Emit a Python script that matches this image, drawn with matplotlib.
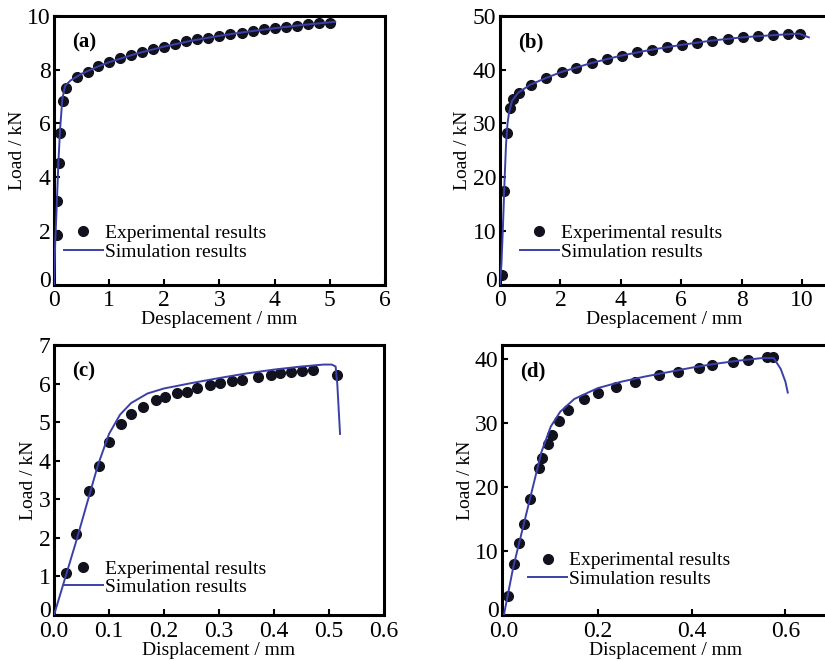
import matplotlib
matplotlib.use("Agg")
import matplotlib.pyplot as plt
import matplotlib.transforms as mtransforms
import numpy as np

# ---- data ----
# (a)
exp_a_x = [0.05, 0.06, 0.09, 0.11, 0.16, 0.21, 0.41, 0.61, 0.80, 0.99, 1.2, 1.4, 1.6, 1.8, 2.0,
           2.2, 2.4, 2.6, 2.8, 3.0, 3.2, 3.4, 3.6, 3.8, 4.0, 4.2, 4.4, 4.6, 4.8, 5.0]
exp_a_y = [1.86, 3.1, 4.52, 5.66, 6.85, 7.31, 7.72, 7.93, 8.12, 8.28, 8.43, 8.55, 8.64, 8.76, 8.86,
           8.96, 9.05, 9.13, 9.19, 9.26, 9.32, 9.38, 9.44, 9.50, 9.54, 9.60, 9.64, 9.69, 9.73, 9.73]
sim_a_x = [0.0, 0.02, 0.05, 0.08, 0.11, 0.15, 0.2, 0.3, 0.5, 0.8, 1.0, 1.5, 2.0, 2.5, 3.0, 3.5,
           4.0, 4.5, 5.0, 5.1]
sim_a_y = [0.0, 1.5, 3.0, 4.6, 5.8, 6.9, 7.4, 7.6, 7.85, 8.12, 8.28, 8.6, 8.86, 9.08, 9.26, 9.41,
           9.54, 9.66, 9.76, 9.78]

# (b)
exp_b_x = [0.08, 0.14, 0.23, 0.33, 0.44, 0.63, 1.02, 1.53, 2.04, 2.53, 3.03, 3.53, 4.03, 4.53,
           5.02, 5.52, 6.02, 6.53, 7.03, 7.53, 8.03, 8.53, 9.03, 9.53, 9.92]
exp_b_y = [1.86, 17.5, 28.2, 32.8, 34.6, 35.7, 37.2, 38.4, 39.5, 40.4, 41.2, 41.9, 42.6, 43.2,
           43.7, 44.2, 44.6, 45.0, 45.4, 45.7, 46.0, 46.3, 46.4, 46.6, 46.7]
sim_b_x = [0.0, 0.05, 0.1, 0.15, 0.2, 0.25, 0.3, 0.4, 0.6, 1.0, 1.5, 2.0, 3.0, 4.0, 5.0, 6.0,
           7.0, 8.0, 9.0, 9.9, 10.22]
sim_b_y = [0.0, 4.0, 11.0, 19.0, 26.0, 30.0, 32.0, 34.2, 35.7, 37.2, 38.4, 39.5, 41.2, 42.6,
           43.7, 44.6, 45.4, 46.0, 46.4, 46.7, 46.0]

# (c)
exp_c_x = [0.021, 0.04, 0.064, 0.081, 0.1, 0.121, 0.14, 0.162, 0.185, 0.202, 0.224, 0.241, 0.26,
           0.283, 0.301, 0.324, 0.342, 0.37, 0.395, 0.411, 0.43, 0.45, 0.47, 0.514]
exp_c_y = [1.10, 2.10, 3.23, 3.86, 4.48, 4.96, 5.22, 5.41, 5.59, 5.65, 5.76, 5.80, 5.88,
           5.96, 6.01, 6.07, 6.11, 6.18, 6.24, 6.28, 6.31, 6.34, 6.37, 6.22]
sim_c_x = [0.0, 0.02, 0.04, 0.06, 0.08, 0.1, 0.12, 0.14, 0.17, 0.2, 0.25, 0.3, 0.35, 0.4, 0.45,
           0.49, 0.505, 0.512, 0.515, 0.52]
sim_c_y = [0.0, 0.95, 1.9, 2.9, 3.9, 4.7, 5.2, 5.5, 5.75, 5.88, 6.02, 6.15, 6.27, 6.37, 6.45,
           6.5, 6.5, 6.45, 6.0, 4.7]

# (d)
exp_d_x = [0.008, 0.022, 0.033, 0.042, 0.056, 0.075, 0.082, 0.093, 0.102, 0.117, 0.137, 0.17,
           0.2, 0.239, 0.279, 0.33, 0.372, 0.416, 0.443, 0.488, 0.52, 0.561, 0.573]
exp_d_y = [2.98, 7.96, 11.2, 14.2, 18.1, 23.0, 24.5, 26.8, 28.1, 30.4, 32.0, 33.8,
           34.8, 35.7, 36.5, 37.5, 38.1, 38.7, 39.1, 39.6, 39.9, 40.3, 40.3]
sim_d_x = [0.0, 0.02, 0.04, 0.06, 0.08, 0.1, 0.12, 0.15, 0.2, 0.25, 0.3, 0.35, 0.4, 0.45, 0.5,
           0.55, 0.575, 0.59, 0.6, 0.605]
sim_d_y = [0.0, 7.5, 13.5, 19.5, 25.5, 29.5, 31.8, 33.8, 35.5, 36.5, 37.3, 38.0, 38.7, 39.3,
           39.8, 40.2, 40.2, 38.5, 36.5, 34.8]

# ---- styling ----
plt.rcParams['font.family'] = ['Liberation Serif', 'DejaVu Serif']
plt.rcParams['font.size'] = 13
line_col = '#3b40a8'
dot_col = '#12121e'

fig = plt.figure(figsize=(8.25, 6.61), dpi=100)

# axes boxes in figure fraction
panels = [
    dict(rect=[0.0655, 0.569, 0.401, 0.407], ex=exp_a_x, ey=exp_a_y, sx=sim_a_x, sy=sim_a_y,
         xlim=(0, 6), ylim=(0, 10), xt=np.arange(0, 7, 1), yt=np.arange(0, 11, 2), xfmt='%d',
         xlabel='Desplacement / mm', tag='(a)', leg=(0.03, 0.09)),
    dict(rect=[0.606, 0.569, 0.399, 0.407], ex=exp_b_x, ey=exp_b_y, sx=sim_b_x, sy=sim_b_y,
         xlim=(0, 10.89), ylim=(0, 50), xt=np.arange(0, 11, 2), yt=np.arange(0, 51, 10), xfmt='%d',
         xlabel='Desplacement / mm', tag='(b)', leg=(0.06, 0.09)),
    dict(rect=[0.0655, 0.0696, 0.400, 0.408], ex=exp_c_x, ey=exp_c_y, sx=sim_c_x, sy=sim_c_y,
         xlim=(0, 0.6), ylim=(0, 7), xt=np.arange(0, 0.61, 0.1), yt=np.arange(0, 8, 1), xfmt='%.1f',
         xlabel='Displacement / mm', tag='(c)', leg=(0.03, 0.07)),
    dict(rect=[0.6085, 0.0696, 0.397, 0.408], ex=exp_d_x, ey=exp_d_y, sx=sim_d_x, sy=sim_d_y,
         xlim=(-0.004, 0.694), ylim=(0, 42.2), xt=np.arange(0, 0.61, 0.2), yt=np.arange(0, 41, 10),
         xfmt='%.1f', xlabel='Displacement / mm', tag='(d)', leg=(0.08, 0.10)),
]

for p in panels:
    ax = fig.add_axes(p['rect'])
    ax.plot(p['sx'], p['sy'], color=line_col, lw=1.4, label='Simulation results', zorder=3)
    ax.plot(p['ex'], p['ey'], 'o', color=dot_col, ms=7, label='Experimental results', zorder=2)
    ax.set_xlim(p['xlim'])
    ax.set_ylim(p['ylim'])
    ax.set_xticks(p['xt'])
    ax.set_yticks(p['yt'])
    ax.set_xticklabels([p['xfmt'] % v for v in p['xt']])
    ax.tick_params(direction='in', length=4, width=1.5, labelsize=17)
    ax.tick_params(axis='y', pad=2.5)
    ax.tick_params(axis='x', pad=4)
    for s in ax.spines.values():
        s.set_linewidth(2.2)
    # lift the y "0" a little so it clears the x "0" below it
    lab0 = ax.get_yticklabels()[0]
    lab0.set_transform(lab0.get_transform() +
                       mtransforms.ScaledTranslation(0, 4 / 72, fig.dpi_scale_trans))
    ax.set_xlabel(p['xlabel'], fontsize=14, labelpad=0)
    ax.set_ylabel('Load / kN', fontsize=14, labelpad=1)
    ax.text(0.055, 0.94, p['tag'], transform=ax.transAxes, fontsize=15, fontweight='bold',
            va='top', ha='left')
    h, l = ax.get_legend_handles_labels()
    ax.legend(h[::-1], l[::-1], loc='lower left', bbox_to_anchor=p['leg'], frameon=False,
              fontsize=14, handlelength=2.0, handletextpad=0.1, labelspacing=0.05,
              borderaxespad=0, borderpad=0)

fig.savefig('out.png', dpi=100)
